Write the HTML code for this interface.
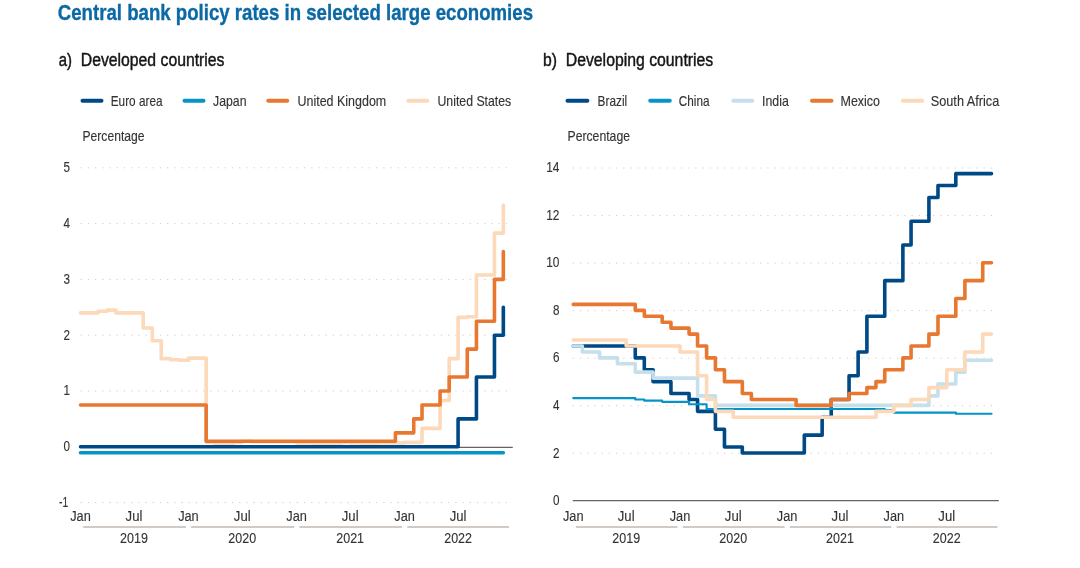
<!DOCTYPE html>
<html lang="en"><head><meta charset="utf-8"><title>Central bank policy rates in selected large economies</title>
<style>html,body{margin:0;padding:0;background:#fff}body{width:1080px;height:568px;overflow:hidden}svg{display:block}text{font-family:"Liberation Sans",sans-serif}</style></head><body>
<svg width="1080" height="568" viewBox="0 0 1080 568">
<rect width="1080" height="568" fill="#fff"/>
<text stroke="#0c69a5" stroke-width="0.35" x="57.8" y="19.8" font-size="21.2" fill="#0c69a5" font-weight="bold" textLength="475.2" lengthAdjust="spacingAndGlyphs">Central bank policy rates in selected large economies</text>
<text x="58.75" y="66.3" font-size="18" fill="#151515" textLength="13.25" lengthAdjust="spacingAndGlyphs" stroke="#151515" stroke-width="0.45">a)</text>
<text x="80.75" y="66.3" font-size="18" fill="#151515" textLength="143.75" lengthAdjust="spacingAndGlyphs" stroke="#151515" stroke-width="0.45">Developed countries</text>
<line x1="82.5" y1="100.75" x2="101.5" y2="100.75" stroke="#004987" stroke-width="4" stroke-linecap="round"/>
<text x="110.75" y="105.7" font-size="14.8" fill="#333333" textLength="51.75" lengthAdjust="spacingAndGlyphs" stroke="#333333" stroke-width="0.14">Euro area</text>
<line x1="184.5" y1="100.75" x2="203.5" y2="100.75" stroke="#0593c8" stroke-width="4" stroke-linecap="round"/>
<text x="213" y="105.7" font-size="14.8" fill="#333333" textLength="33.5" lengthAdjust="spacingAndGlyphs" stroke="#333333" stroke-width="0.14">Japan</text>
<line x1="268.25" y1="100.75" x2="287.25" y2="100.75" stroke="#e87830" stroke-width="4" stroke-linecap="round"/>
<text x="297.5" y="105.7" font-size="14.8" fill="#333333" textLength="88.75" lengthAdjust="spacingAndGlyphs" stroke="#333333" stroke-width="0.14">United Kingdom</text>
<line x1="408.25" y1="100.75" x2="427.25" y2="100.75" stroke="#fcd9b8" stroke-width="4" stroke-linecap="round"/>
<text x="437.5" y="105.7" font-size="14.8" fill="#333333" textLength="73.75" lengthAdjust="spacingAndGlyphs" stroke="#333333" stroke-width="0.14">United States</text>
<text x="82.5" y="141.4" font-size="14.8" fill="#333333" textLength="62" lengthAdjust="spacingAndGlyphs" stroke="#333333" stroke-width="0.14">Percentage</text>
<line x1="80.65" y1="167.8" x2="506.9" y2="167.8" stroke="#d0ccc6" stroke-width="1" stroke-dasharray="1.2 6.006"/>
<text x="70" y="172.1" font-size="14.4" fill="#333333" text-anchor="end" textLength="6.5" lengthAdjust="spacingAndGlyphs" stroke="#333333" stroke-width="0.12">5</text>
<line x1="80.65" y1="223.6" x2="506.9" y2="223.6" stroke="#d0ccc6" stroke-width="1" stroke-dasharray="1.2 6.006"/>
<text x="70" y="227.9" font-size="14.4" fill="#333333" text-anchor="end" textLength="6.5" lengthAdjust="spacingAndGlyphs" stroke="#333333" stroke-width="0.12">4</text>
<line x1="80.65" y1="279.4" x2="506.9" y2="279.4" stroke="#d0ccc6" stroke-width="1" stroke-dasharray="1.2 6.006"/>
<text x="70" y="283.7" font-size="14.4" fill="#333333" text-anchor="end" textLength="6.5" lengthAdjust="spacingAndGlyphs" stroke="#333333" stroke-width="0.12">3</text>
<line x1="80.65" y1="335.2" x2="506.9" y2="335.2" stroke="#d0ccc6" stroke-width="1" stroke-dasharray="1.2 6.006"/>
<text x="70" y="339.5" font-size="14.4" fill="#333333" text-anchor="end" textLength="6.5" lengthAdjust="spacingAndGlyphs" stroke="#333333" stroke-width="0.12">2</text>
<line x1="80.65" y1="391" x2="506.9" y2="391" stroke="#d0ccc6" stroke-width="1" stroke-dasharray="1.2 6.006"/>
<text x="70" y="395.3" font-size="14.4" fill="#333333" text-anchor="end" textLength="6.5" lengthAdjust="spacingAndGlyphs" stroke="#333333" stroke-width="0.12">1</text>
<text x="70" y="451.1" font-size="14.4" fill="#333333" text-anchor="end" textLength="6.5" lengthAdjust="spacingAndGlyphs" stroke="#333333" stroke-width="0.12">0</text>
<line x1="80.65" y1="502.6" x2="506.9" y2="502.6" stroke="#d0ccc6" stroke-width="1" stroke-dasharray="1.2 6.006"/>
<text x="68.2" y="506.9" font-size="14.4" fill="#333333" text-anchor="end" textLength="9.2" lengthAdjust="spacingAndGlyphs" stroke="#333333" stroke-width="0.12">-1</text>
<line x1="80.65" y1="447.3" x2="512.8" y2="447.3" stroke="#6b625b" stroke-width="1.25"/>
<path d="M80.5 312.88H97.95V311.21H107.11V310.09H115.98V312.88H143.19V327.95H152.35V340.78H161.22V358.64H170.39V359.75H179.26V360.31H188.43V358.08H206.17V442.34H215.33V444.01H233.37V442.34H242.24V441.22H251.41V441.78H296.65V442.89H314.09V443.45H323.26V444.01H341.3V442.34H350.17V442.89H359.33V443.45H377.37V442.89H404.57V442.34H422.02V428.39H440.06V400.49H449.22V358.64H458.09V317.34H467.26V316.79H476.43V274.94H494.46V233.09H503.33V205.19" fill="none" stroke="#fcd9b8" stroke-width="3.6" stroke-linejoin="round" stroke-linecap="round"/>
<path d="M80.5 404.95H206.17V441.22H395.41V432.85H413.74V418.9H422.02V404.95H440.06V391H449.22V377.05H467.26V349.15H476.43V321.25H494.46V279.4H503.33V251.5" fill="none" stroke="#e87830" stroke-width="3.6" stroke-linejoin="round" stroke-linecap="round"/>
<path d="M80.5 452.71H503.33" fill="none" stroke="#0593c8" stroke-width="3.6" stroke-linejoin="round" stroke-linecap="round"/>
<path d="M80.5 446.8H458.09V418.9H476.43V377.05H494.46V335.2H503.33V307.3" fill="none" stroke="#004987" stroke-width="3.6" stroke-linejoin="round" stroke-linecap="round"/>
<text x="80.5" y="521" font-size="14.0" fill="#333333" text-anchor="middle" textLength="20.6" lengthAdjust="spacingAndGlyphs" stroke="#333333" stroke-width="0.12">Jan</text>
<text x="134.02" y="521" font-size="14.0" fill="#333333" text-anchor="middle" textLength="16.8" lengthAdjust="spacingAndGlyphs" stroke="#333333" stroke-width="0.12">Jul</text>
<text x="134.02" y="542.5" font-size="14.4" fill="#333333" text-anchor="middle" textLength="27.8" lengthAdjust="spacingAndGlyphs" stroke="#333333" stroke-width="0.12">2019</text>
<line x1="83.2" y1="527" x2="185.93" y2="527" stroke="#c3b9b0" stroke-width="1.4"/>
<text x="188.43" y="521" font-size="14.0" fill="#333333" text-anchor="middle" textLength="20.6" lengthAdjust="spacingAndGlyphs" stroke="#333333" stroke-width="0.12">Jan</text>
<text x="242.24" y="521" font-size="14.0" fill="#333333" text-anchor="middle" textLength="16.8" lengthAdjust="spacingAndGlyphs" stroke="#333333" stroke-width="0.12">Jul</text>
<text x="242.24" y="542.5" font-size="14.4" fill="#333333" text-anchor="middle" textLength="27.8" lengthAdjust="spacingAndGlyphs" stroke="#333333" stroke-width="0.12">2020</text>
<line x1="191.13" y1="527" x2="294.15" y2="527" stroke="#c3b9b0" stroke-width="1.4"/>
<text x="296.65" y="521" font-size="14.0" fill="#333333" text-anchor="middle" textLength="20.6" lengthAdjust="spacingAndGlyphs" stroke="#333333" stroke-width="0.12">Jan</text>
<text x="350.17" y="521" font-size="14.0" fill="#333333" text-anchor="middle" textLength="16.8" lengthAdjust="spacingAndGlyphs" stroke="#333333" stroke-width="0.12">Jul</text>
<text x="350.17" y="542.5" font-size="14.4" fill="#333333" text-anchor="middle" textLength="27.8" lengthAdjust="spacingAndGlyphs" stroke="#333333" stroke-width="0.12">2021</text>
<line x1="299.35" y1="527" x2="402.07" y2="527" stroke="#c3b9b0" stroke-width="1.4"/>
<text x="404.57" y="521" font-size="14.0" fill="#333333" text-anchor="middle" textLength="20.6" lengthAdjust="spacingAndGlyphs" stroke="#333333" stroke-width="0.12">Jan</text>
<text x="458.09" y="521" font-size="14.0" fill="#333333" text-anchor="middle" textLength="16.8" lengthAdjust="spacingAndGlyphs" stroke="#333333" stroke-width="0.12">Jul</text>
<text x="458.09" y="542.5" font-size="14.4" fill="#333333" text-anchor="middle" textLength="27.8" lengthAdjust="spacingAndGlyphs" stroke="#333333" stroke-width="0.12">2022</text>
<line x1="407.27" y1="527" x2="509" y2="527" stroke="#c3b9b0" stroke-width="1.4"/>
<text x="543" y="66.3" font-size="18" fill="#151515" textLength="14" lengthAdjust="spacingAndGlyphs" stroke="#151515" stroke-width="0.45">b)</text>
<text x="565.75" y="66.3" font-size="18" fill="#151515" textLength="147.5" lengthAdjust="spacingAndGlyphs" stroke="#151515" stroke-width="0.45">Developing countries</text>
<line x1="567.5" y1="100.75" x2="587.4" y2="100.75" stroke="#004987" stroke-width="4" stroke-linecap="round"/>
<text x="597.6" y="105.7" font-size="14.8" fill="#333333" textLength="29.6" lengthAdjust="spacingAndGlyphs" stroke="#333333" stroke-width="0.14">Brazil</text>
<line x1="650.25" y1="100.75" x2="669.75" y2="100.75" stroke="#0593c8" stroke-width="4" stroke-linecap="round"/>
<text x="678.75" y="105.7" font-size="14.8" fill="#333333" textLength="30.75" lengthAdjust="spacingAndGlyphs" stroke="#333333" stroke-width="0.14">China</text>
<line x1="733.25" y1="100.75" x2="752.25" y2="100.75" stroke="#c6dfec" stroke-width="4" stroke-linecap="round"/>
<text x="762" y="105.7" font-size="14.8" fill="#333333" textLength="26.75" lengthAdjust="spacingAndGlyphs" stroke="#333333" stroke-width="0.14">India</text>
<line x1="812" y1="100.75" x2="831.5" y2="100.75" stroke="#e87830" stroke-width="4" stroke-linecap="round"/>
<text x="840.5" y="105.7" font-size="14.8" fill="#333333" textLength="39.5" lengthAdjust="spacingAndGlyphs" stroke="#333333" stroke-width="0.14">Mexico</text>
<line x1="902.75" y1="100.75" x2="922.25" y2="100.75" stroke="#fcd9b8" stroke-width="4" stroke-linecap="round"/>
<text x="930.75" y="105.7" font-size="14.8" fill="#333333" textLength="68.5" lengthAdjust="spacingAndGlyphs" stroke="#333333" stroke-width="0.14">South Africa</text>
<text x="567.5" y="141.4" font-size="14.8" fill="#333333" textLength="62.5" lengthAdjust="spacingAndGlyphs" stroke="#333333" stroke-width="0.14">Percentage</text>
<line x1="572.8" y1="168.02" x2="992.3" y2="168.02" stroke="#d0ccc6" stroke-width="1" stroke-dasharray="1.2 6.006"/>
<text x="559.5" y="172.32" font-size="14.4" fill="#333333" text-anchor="end" textLength="13.25" lengthAdjust="spacingAndGlyphs" stroke="#333333" stroke-width="0.12">14</text>
<line x1="572.8" y1="215.56" x2="992.3" y2="215.56" stroke="#d0ccc6" stroke-width="1" stroke-dasharray="1.2 6.006"/>
<text x="559.5" y="219.86" font-size="14.4" fill="#333333" text-anchor="end" textLength="13.25" lengthAdjust="spacingAndGlyphs" stroke="#333333" stroke-width="0.12">12</text>
<line x1="572.8" y1="263.1" x2="992.3" y2="263.1" stroke="#d0ccc6" stroke-width="1" stroke-dasharray="1.2 6.006"/>
<text x="559.5" y="267.4" font-size="14.4" fill="#333333" text-anchor="end" textLength="13.25" lengthAdjust="spacingAndGlyphs" stroke="#333333" stroke-width="0.12">10</text>
<line x1="572.8" y1="310.64" x2="992.3" y2="310.64" stroke="#d0ccc6" stroke-width="1" stroke-dasharray="1.2 6.006"/>
<text x="559.5" y="314.94" font-size="14.4" fill="#333333" text-anchor="end" textLength="6.5" lengthAdjust="spacingAndGlyphs" stroke="#333333" stroke-width="0.12">8</text>
<line x1="572.8" y1="358.18" x2="992.3" y2="358.18" stroke="#d0ccc6" stroke-width="1" stroke-dasharray="1.2 6.006"/>
<text x="559.5" y="362.48" font-size="14.4" fill="#333333" text-anchor="end" textLength="6.5" lengthAdjust="spacingAndGlyphs" stroke="#333333" stroke-width="0.12">6</text>
<line x1="572.8" y1="405.72" x2="992.3" y2="405.72" stroke="#d0ccc6" stroke-width="1" stroke-dasharray="1.2 6.006"/>
<text x="559.5" y="410.02" font-size="14.4" fill="#333333" text-anchor="end" textLength="6.5" lengthAdjust="spacingAndGlyphs" stroke="#333333" stroke-width="0.12">4</text>
<line x1="572.8" y1="453.26" x2="992.3" y2="453.26" stroke="#d0ccc6" stroke-width="1" stroke-dasharray="1.2 6.006"/>
<text x="559.5" y="457.56" font-size="14.4" fill="#333333" text-anchor="end" textLength="6.5" lengthAdjust="spacingAndGlyphs" stroke="#333333" stroke-width="0.12">2</text>
<text x="559.5" y="505.1" font-size="14.4" fill="#333333" text-anchor="end" textLength="6.5" lengthAdjust="spacingAndGlyphs" stroke="#333333" stroke-width="0.12">0</text>
<line x1="572.8" y1="500.5" x2="998.8" y2="500.5" stroke="#6b625b" stroke-width="1.25"/>
<path d="M573.25 346H635.26V357.88H644.32V369.76H653.1V381.65H670.94V393.53H689.07V399.48H697.56V411.36H715.4V429.19H724.46V447.02H742.31V452.96H804.31V435.13H822.15V417.31H831.22V399.48H849.06V375.71H858.13V351.94H866.9V316.28H884.75V280.63H902.88V244.97H911.07V221.2H928.91V197.43H937.98V185.55H955.82V173.66H991.5" fill="none" stroke="#004987" stroke-width="3.6" stroke-linejoin="round" stroke-linecap="round"/>
<path d="M573.25 398.05H635.26V399.48H644.32V400.67H662.17V401.85H689.07V404.23H706.62V408.99H884.75V410.17H893.81V412.55H955.82V413.74H991.5" fill="none" stroke="#0593c8" stroke-width="2.2" stroke-linejoin="round" stroke-linecap="round"/>
<path d="M573.25 346H582.32V351.94H599.57V357.88H617.42V363.82H635.26V372.14H653.1V378.08H697.56V395.91H715.4V405.42H928.91V395.91H937.98V384.03H955.82V372.14H964.89V360.26H991.5" fill="none" stroke="#c6dfec" stroke-width="3.6" stroke-linejoin="round" stroke-linecap="round"/>
<path d="M573.25 304.4H635.26V310.34H644.32V316.28H662.17V322.23H670.94V328.17H689.07V334.11H697.56V346H706.62V357.88H715.4V369.76H724.46V381.65H742.31V393.53H751.37V399.48H796.12V405.42H831.22V399.48H849.06V393.53H866.9V387.59H875.97V381.65H884.75V369.76H902.88V357.88H911.07V346H928.91V334.11H937.98V316.28H955.82V298.46H964.89V280.63H982.73V262.8H991.5" fill="none" stroke="#e87830" stroke-width="3.6" stroke-linejoin="round" stroke-linecap="round"/>
<path d="M573.25 340.05H626.19V346H680.01V351.94H697.56V375.71H706.62V399.48H715.4V411.36H733.24V417.31H875.97V411.36H893.81V405.42H911.07V399.48H928.91V387.59H946.75V369.76H964.89V351.94H982.73V334.11H991.5" fill="none" stroke="#fcd9b8" stroke-width="3.6" stroke-linejoin="round" stroke-linecap="round"/>
<text x="573.25" y="521" font-size="14.0" fill="#333333" text-anchor="middle" textLength="20.6" lengthAdjust="spacingAndGlyphs" stroke="#333333" stroke-width="0.12">Jan</text>
<text x="626.19" y="521" font-size="14.0" fill="#333333" text-anchor="middle" textLength="16.8" lengthAdjust="spacingAndGlyphs" stroke="#333333" stroke-width="0.12">Jul</text>
<text x="626.19" y="542.5" font-size="14.4" fill="#333333" text-anchor="middle" textLength="27.8" lengthAdjust="spacingAndGlyphs" stroke="#333333" stroke-width="0.12">2019</text>
<line x1="575.95" y1="527" x2="677.51" y2="527" stroke="#c3b9b0" stroke-width="1.4"/>
<text x="680.01" y="521" font-size="14.0" fill="#333333" text-anchor="middle" textLength="20.6" lengthAdjust="spacingAndGlyphs" stroke="#333333" stroke-width="0.12">Jan</text>
<text x="733.24" y="521" font-size="14.0" fill="#333333" text-anchor="middle" textLength="16.8" lengthAdjust="spacingAndGlyphs" stroke="#333333" stroke-width="0.12">Jul</text>
<text x="733.24" y="542.5" font-size="14.4" fill="#333333" text-anchor="middle" textLength="27.8" lengthAdjust="spacingAndGlyphs" stroke="#333333" stroke-width="0.12">2020</text>
<line x1="682.71" y1="527" x2="784.56" y2="527" stroke="#c3b9b0" stroke-width="1.4"/>
<text x="787.06" y="521" font-size="14.0" fill="#333333" text-anchor="middle" textLength="20.6" lengthAdjust="spacingAndGlyphs" stroke="#333333" stroke-width="0.12">Jan</text>
<text x="840" y="521" font-size="14.0" fill="#333333" text-anchor="middle" textLength="16.8" lengthAdjust="spacingAndGlyphs" stroke="#333333" stroke-width="0.12">Jul</text>
<text x="840" y="542.5" font-size="14.4" fill="#333333" text-anchor="middle" textLength="27.8" lengthAdjust="spacingAndGlyphs" stroke="#333333" stroke-width="0.12">2021</text>
<line x1="789.76" y1="527" x2="891.31" y2="527" stroke="#c3b9b0" stroke-width="1.4"/>
<text x="893.81" y="521" font-size="14.0" fill="#333333" text-anchor="middle" textLength="20.6" lengthAdjust="spacingAndGlyphs" stroke="#333333" stroke-width="0.12">Jan</text>
<text x="946.75" y="521" font-size="14.0" fill="#333333" text-anchor="middle" textLength="16.8" lengthAdjust="spacingAndGlyphs" stroke="#333333" stroke-width="0.12">Jul</text>
<text x="946.75" y="542.5" font-size="14.4" fill="#333333" text-anchor="middle" textLength="27.8" lengthAdjust="spacingAndGlyphs" stroke="#333333" stroke-width="0.12">2022</text>
<line x1="896.51" y1="527" x2="997.5" y2="527" stroke="#c3b9b0" stroke-width="1.4"/>
</svg></body></html>
